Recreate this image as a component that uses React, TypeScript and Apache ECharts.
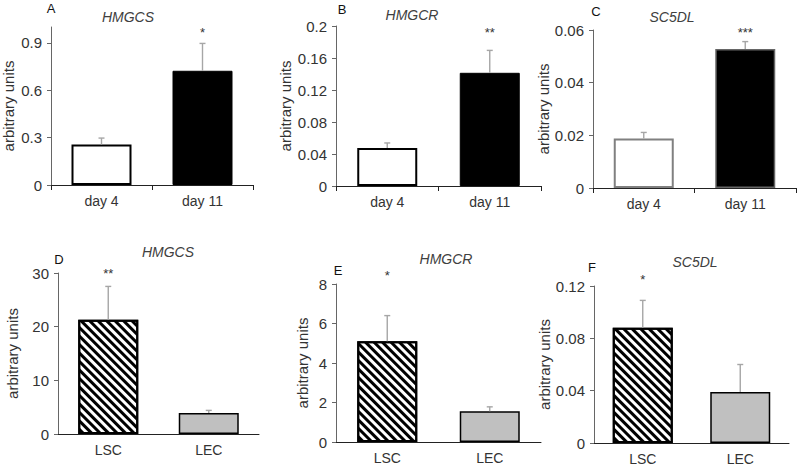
import React, { useEffect, useRef } from "react";
import * as echarts from "echarts";

// ---- data ----
const dayCategories = ["day 4", "day 11"];
const cellCategories = ["LSC", "LEC"];

const hmgcsDayMean = [0.256, 0.723];
const hmgcsDayErr = [0.041, 0.173];
const hmgcrDayMean = [0.0475, 0.1415];
const hmgcrDayErr = [0.0063, 0.028];
const sc5dlDayMean = [0.0188, 0.0528];
const sc5dlDayErr = [0.0023, 0.0028];

const hmgcsCellMean = [21.3, 3.9];
const hmgcsCellErr = [6.2, 0.5];
const hmgcrCellMean = [5.1, 1.56];
const hmgcrCellErr = [1.3, 0.22];
const sc5dlCellMean = [0.088, 0.039];
const sc5dlCellErr = [0.021, 0.021];

const sigA = ["", "*"];
const sigB = ["", "**"];
const sigC = ["", "***"];
const sigD = ["**", ""];
const sigE = ["*", ""];
const sigF = ["*", ""];

const geneTitles = ["HMGCS", "HMGCR", "SC5DL", "HMGCS", "HMGCR", "SC5DL"];
const panelLetters = ["A", "B", "C", "D", "E", "F"];

const yMaxes = [1, 0.2, 0.06, 30, 8, 0.12];
const yIntervals = [0.3, 0.04, 0.02, 10, 2, 0.04];
const yTicksA = [0, 0.3, 0.6, 0.9];

// ---- layout / style ----
const FONT = "'Liberation Sans', Arial, Helvetica, sans-serif";
const grids = [
  { left: 50, top: 27, width: 203, height: 158 },
  { left: 336, top: 26, width: 205, height: 160 },
  { left: 593, top: 30, width: 203, height: 158 },
  { left: 58, top: 273, width: 201, height: 161 },
  { left: 336, top: 284, width: 205, height: 158 },
  { left: 594, top: 286, width: 195, height: 157 },
];
const nameGaps = [35, 43, 41, 38, 26, 42];
const starY = [32, 32, 32, 273, 275, 279];
const titlePos = [
  [128, 17], [412, 15], [672, 17], [168, 252], [446, 259], [695, 262],
];
const letterPos = [
  [51, 8], [342, 9], [596, 11], [59, 259], [338, 270], [592, 267],
];

const hatch = {
  symbol: "rect",
  symbolSize: 1,
  symbolKeepAspect: false,
  dashArrayX: [1, 0],
  dashArrayY: [2.4, 2.3],
  rotation: Math.PI / 4,
  color: "#000",
};

const barStyles = [
  [
    { color: "#fff", borderColor: "#000", borderWidth: 2 },
    { color: "#000", borderColor: "#000", borderWidth: 1 },
  ],
  [
    { color: "#fff", borderColor: "#000", borderWidth: 2 },
    { color: "#000", borderColor: "#000", borderWidth: 1 },
  ],
  [
    { color: "#fff", borderColor: "#808080", borderWidth: 2 },
    { color: "#000", borderColor: "#666", borderWidth: 1.5 },
  ],
];
const cellStyles = [
  { color: "#fff", borderColor: "#000", borderWidth: 2, decal: hatch },
  { color: "#c0c0c0", borderColor: "#000", borderWidth: 1.5 },
];

export default function App() {
  const ref = useRef<HTMLDivElement>(null);
  useEffect(() => {
    if (!ref.current) return;
    const chart = echarts.init(ref.current, null, { renderer: "svg" });

    const means = [hmgcsDayMean, hmgcrDayMean, sc5dlDayMean, hmgcsCellMean, hmgcrCellMean, sc5dlCellMean];
    const errs = [hmgcsDayErr, hmgcrDayErr, sc5dlDayErr, hmgcsCellErr, hmgcrCellErr, sc5dlCellErr];
    const sigs = [sigA, sigB, sigC, sigD, sigE, sigF];

    const xAxis: any[] = [];
    const yAxis: any[] = [];
    const series: any[] = [];
    const graphic: any[] = [];

    for (let i = 0; i < 6; i++) {
      const top = i < 3;
      xAxis.push({
        gridIndex: i,
        type: "category",
        data: top ? dayCategories : cellCategories,
        boundaryGap: true,
        axisLine: { show: true, lineStyle: { color: "#222", width: 1 } },
        axisTick: { show: top, length: 5, alignWithLabel: false, lineStyle: { color: "#222" } },
        axisLabel: { color: "#333", fontSize: 14, fontFamily: FONT, margin: 9 },
        splitLine: { show: false },
      });
      const yl: any = {
        gridIndex: i,
        type: "value",
        min: 0,
        max: yMaxes[i],
        interval: yIntervals[i],
        axisLine: { show: true, lineStyle: { color: "#666", width: 1 } },
        axisTick: { show: true, length: 4, lineStyle: { color: "#666" } },
        splitLine: { show: false },
        axisLabel: { color: "#333", fontSize: 15, fontFamily: FONT, margin: 9 },
        name: "arbitrary units",
        nameLocation: "middle",
        nameRotate: 90,
        nameGap: nameGaps[i],
        nameTextStyle: { color: "#333", fontSize: 15, fontFamily: FONT },
      };
      if (i === 0) {
        delete yl.interval;
        yl.axisLabel.customValues = yTicksA;
        yl.axisTick.customValues = yTicksA;
      }
      yAxis.push(yl);

      const styles = top ? barStyles[i] : cellStyles;
      series.push({
        type: "bar",
        xAxisIndex: i,
        yAxisIndex: i,
        barWidth: 60,
        data: means[i].map((v, j) => ({ value: v, itemStyle: styles[j] })),
      });

      const sig = sigs[i];
      const sy = starY[i];
      series.push({
        type: "custom",
        xAxisIndex: i,
        yAxisIndex: i,
        clip: false,
        z: 5,
        data: means[i].map((v, j) => [j, v, errs[i][j]]),
        renderItem: (params: any, api: any) => {
          const c = api.value(0);
          const v = api.value(1);
          const e = api.value(2);
          const base = api.coord([c, v]);
          const tip = api.coord([c, v + e]);
          const children: any[] = [
            {
              type: "line",
              shape: { x1: base[0], y1: base[1], x2: tip[0], y2: tip[1] },
              style: { stroke: "#a6a6a6", lineWidth: 1.4 },
            },
            {
              type: "line",
              shape: { x1: tip[0] - 3, y1: tip[1], x2: tip[0] + 3, y2: tip[1] },
              style: { stroke: "#a6a6a6", lineWidth: 1.4 },
            },
          ];
          const s = sig[params.dataIndex];
          if (s) {
            children.push({
              type: "text",
              x: base[0],
              y: sy,
              style: {
                text: s,
                fill: "#333",
                fontSize: 13,
                fontFamily: FONT,
                align: "center",
                textAlign: "center",
                verticalAlign: "middle",
                textVerticalAlign: "middle",
              },
            });
          }
          return { type: "group", children };
        },
      });

      graphic.push({
        type: "text",
        x: titlePos[i][0],
        y: titlePos[i][1],
        style: {
          text: geneTitles[i],
          fill: "#404040",
          fontSize: 14,
          fontStyle: "italic",
          fontFamily: FONT,
          align: "center",
          textAlign: "center",
          verticalAlign: "middle",
          textVerticalAlign: "middle",
        },
      });
      graphic.push({
        type: "text",
        x: letterPos[i][0],
        y: letterPos[i][1],
        style: {
          text: panelLetters[i],
          fill: "#111",
          fontSize: 13,
          fontFamily: FONT,
          align: "center",
          textAlign: "center",
          verticalAlign: "middle",
          textVerticalAlign: "middle",
        },
      });
    }

    chart.setOption({
      animation: false,
      backgroundColor: "#fff",
      grid: grids,
      xAxis,
      yAxis,
      series,
      graphic,
    });
    return () => chart.dispose();
  }, []);
  return (
    <div
      ref={ref}
      style={{ position: "absolute", left: 0, top: 0, width: 800, height: 469 }}
    />
  );
}
